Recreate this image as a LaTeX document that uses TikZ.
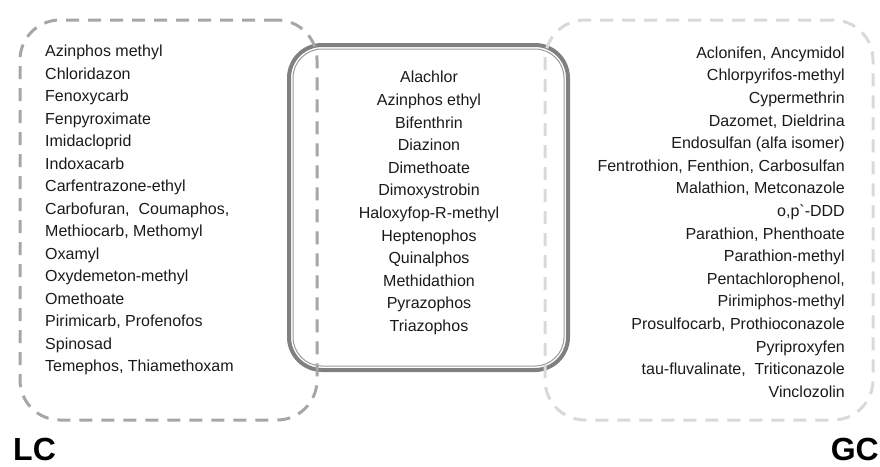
\documentclass[tikz,border=0pt]{standalone}
\usepackage{fontspec}
\setmainfont{Liberation Sans}
\definecolor{lcgray}{HTML}{A6A6A6}
\definecolor{gcgray}{HTML}{D9D9D9}
\definecolor{midgray}{HTML}{808080}
\definecolor{txt}{HTML}{1A1A1A}
\begin{document}
\begin{tikzpicture}[x=1pt,y=-1pt,
  dashbox/.style={line width=3pt, dash pattern=on 13pt off 9pt, rounded corners=40pt, inner sep=0pt, minimum height=400pt},
  lcbox/.style={dashbox, draw=lcgray, minimum width=297pt},
  gcbox/.style={dashbox, draw=gcgray, minimum width=328pt},
  outerbox/.style={draw=midgray, line width=4pt, rounded corners=33pt, inner sep=0pt, minimum width=279pt, minimum height=325pt},
  innerbox/.style={draw=midgray!80, line width=1pt, rounded corners=29pt, inner sep=0pt, minimum width=271pt, minimum height=317pt},
  item/.style={font=\fontsize{16}{19}\selectfont, text=txt, inner sep=0pt},
  biglabel/.style={font=\fontsize{32}{36}\selectfont\bfseries, text=black, inner sep=0pt}
]
\useasboundingbox (0,0) rectangle (880,466);
% central double box
\node[outerbox] (both) at (428.5,207.5) {};
\node[innerbox] (bothin) at (428.5,207.5) {};
% dashed boxes
\node[lcbox] (lc) at (168.5,220) {};
\node[gcbox] (gc) at (709,220) {};
% LC list
\foreach \t [count=\i] in {Azinphos methyl, Chloridazon, Fenoxycarb, Fenpyroximate, Imidacloprid, Indoxacarb, Carfentrazone-ethyl, {Carbofuran,\ \ Coumaphos,}, {Methiocarb, Methomyl}, Oxamyl, Oxydemeton-methyl, Omethoate, {Pirimicarb, Profenofos}, Spinosad, {Temephos,\ Thiamethoxam}}
  \node[item, anchor=base west] (lc\i) at (45,{56.7+22.5*(\i-1)}) {\t};
% common list
\foreach \t [count=\i] in {Alachlor, Azinphos ethyl, Bifenthrin, Diazinon, Dimethoate, Dimoxystrobin, Haloxyfop-R-methyl, Heptenophos, Quinalphos, Methidathion, Pyrazophos, Triazophos}
  \node[item, anchor=base] (c\i) at (429,{82.8+22.6*(\i-1)}) {\t};
% GC list
\foreach \t [count=\i] in {{Aclonifen, Ancymidol}, Chlorpyrifos-methyl, Cypermethrin, {Dazomet, Dieldrina}, {Endosulfan (alfa isomer)}, {Fentrothion, Fenthion, Carbosulfan}, {Malathion, Metconazole}, {o,p\textasciigrave-DDD}, {Parathion, Phenthoate}, Parathion-methyl, {Pentachlorophenol,}, Pirimiphos-methyl, {Prosulfocarb,\ Prothioconazole}, Pyriproxyfen, {tau-fluvalinate,\ \ Triticonazole}, Vinclozolin}
  \node[item, anchor=base east] (gc\i) at (845,{58.3+22.6*(\i-1)}) {\t};
% labels
\node[biglabel, anchor=base west] (lclab) at (13,460) {LC};
\node[biglabel, anchor=base east] (gclab) at (879,460) {GC};
\end{tikzpicture}
\end{document}
